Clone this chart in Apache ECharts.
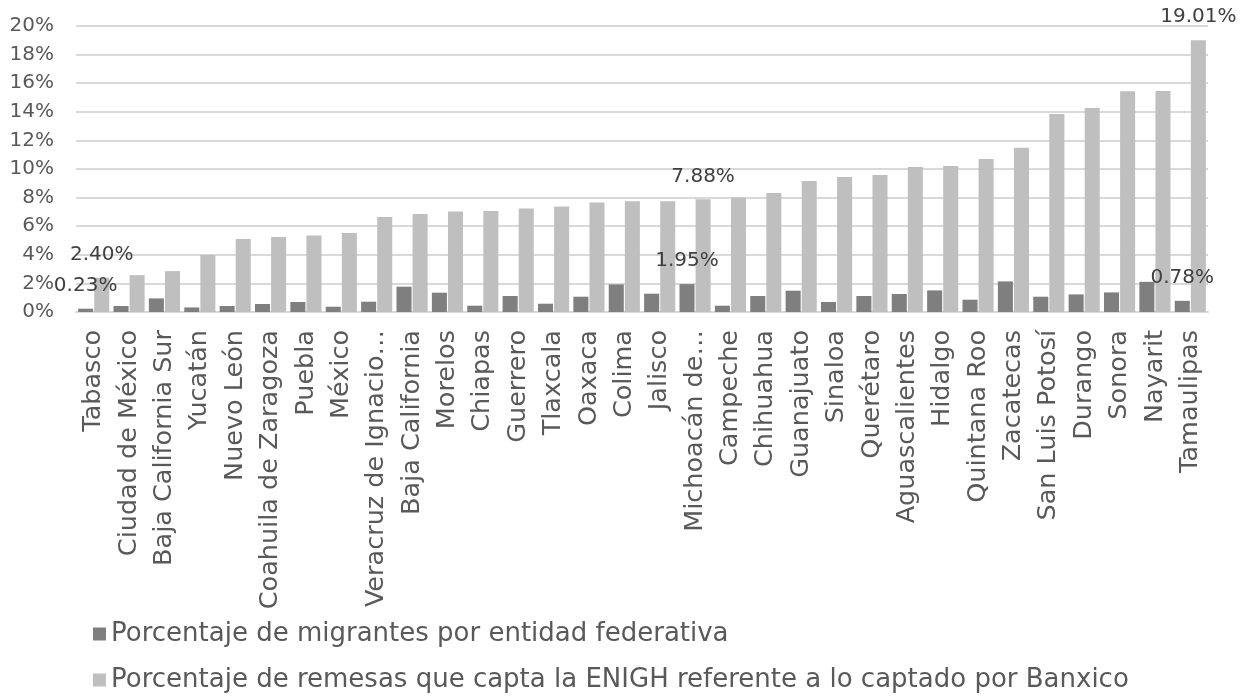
<!DOCTYPE html>
<html>
<head>
<meta charset="utf-8">
<script src="https://cdn.jsdelivr.net/npm/echarts@6/dist/echarts.min.js"></script>
<style>
  html, body { margin: 0; padding: 0; background: #ffffff; }
  #chart { width: 1244px; height: 696px; }
</style>
</head>
<body>
<div id="chart"></div>
<script>
// Entidades federativas, ordenadas por porcentaje de remesas captadas
const estados = [
  'Tabasco', 'Ciudad de México', 'Baja California Sur', 'Yucatán', 'Nuevo León',
  'Coahuila de Zaragoza', 'Puebla', 'México', 'Veracruz de Ignacio…', 'Baja California',
  'Morelos', 'Chiapas', 'Guerrero', 'Tlaxcala', 'Oaxaca', 'Colima', 'Jalisco',
  'Michoacán de…', 'Campeche', 'Chihuahua', 'Guanajuato', 'Sinaloa', 'Querétaro',
  'Aguascalientes', 'Hidalgo', 'Quintana Roo', 'Zacatecas', 'San Luis Potosí',
  'Durango', 'Sonora', 'Nayarit', 'Tamaulipas'
];

// Porcentaje de migrantes por entidad federativa
const migrantes = [
  0.23, 0.42, 0.95, 0.32, 0.42, 0.56, 0.70, 0.37, 0.72, 1.77,
  1.35, 0.44, 1.12, 0.58, 1.07, 1.93, 1.28, 1.95, 0.44, 1.12,
  1.49, 0.70, 1.12, 1.26, 1.51, 0.86, 2.14, 1.07, 1.23, 1.37,
  2.11, 0.78
];

// Porcentaje de remesas que capta la ENIGH respecto a Banxico
const remesas = [
  2.40, 2.58, 2.86, 4.00, 5.11, 5.25, 5.35, 5.53, 6.65, 6.86,
  7.02, 7.07, 7.23, 7.37, 7.65, 7.74, 7.74, 7.88, 8.00, 8.33,
  9.16, 9.44, 9.58, 10.14, 10.21, 10.70, 11.49, 13.84, 14.26, 15.44,
  15.46, 19.01
];

// Marcas de eje Y
const ticksY = [0, 2, 4, 6, 8, 10, 12, 14, 16, 18, 20];

// Etiquetas de dato visibles sólo en estas entidades
const conEtiqueta = ['Tabasco', 'Michoacán de…', 'Tamaulipas'];

const nombreMigrantes = 'Porcentaje de migrantes por entidad federativa';
const nombreRemesas = 'Porcentaje de remesas que capta la ENIGH referente a lo captado por Banxico';

const FONT = 'DejaVu Sans';
const TEXT = '#595959';

function conLabels(valores) {
  return valores.map((v, i) => ({
    value: v,
    label: { show: conEtiqueta.indexOf(estados[i]) !== -1 }
  }));
}

const etiquetaDato = {
  position: 'top',
  distance: 13,
  color: '#404040',
  fontFamily: FONT,
  fontSize: 20,
  formatter: p => p.value.toFixed(2) + '%'
};

const chart = echarts.init(document.getElementById('chart'), null, { renderer: 'canvas' });

chart.setOption({
  animation: false,
  backgroundColor: '#ffffff',
  textStyle: { fontFamily: FONT },
  grid: { left: 76, right: 36, top: 26, bottom: 384 },
  legend: {
    orient: 'vertical',
    left: 93,
    top: 621,
    height: 200,
    padding: 0,
    itemGap: 20,
    itemWidth: 13,
    itemHeight: 13,
    icon: 'rect',
    textStyle: { color: TEXT, fontFamily: FONT, fontSize: 26 },
    data: [nombreMigrantes, nombreRemesas]
  },
  xAxis: {
    type: 'category',
    data: estados,
    axisLine: { lineStyle: { color: '#d9d9d9', width: 2 } },
    axisTick: { show: false },
    axisLabel: {
      interval: 0,
      rotate: 90,
      margin: 18,
      color: TEXT,
      fontFamily: FONT,
      fontSize: 25.5
    }
  },
  yAxis: {
    type: 'value',
    min: ticksY[0],
    max: ticksY[ticksY.length - 1],
    interval: ticksY[1] - ticksY[0],
    axisLine: { show: false },
    axisTick: { show: false },
    splitLine: { lineStyle: { color: '#d9d9d9', width: 2 } },
    axisLabel: {
      margin: 22,
      color: TEXT,
      fontFamily: FONT,
      fontSize: 20,
      formatter: '{value}%'
    }
  },
  series: [
    {
      name: nombreMigrantes,
      type: 'bar',
      data: conLabels(migrantes),
      itemStyle: { color: '#7f7f7f' },
      barGap: '7%',
      barCategoryGap: '12%',
      label: etiquetaDato
    },
    {
      name: nombreRemesas,
      type: 'bar',
      data: conLabels(remesas),
      itemStyle: { color: '#bfbfbf' },
      barGap: '7%',
      barCategoryGap: '12%',
      label: etiquetaDato
    }
  ]
});
</script>
</body>
</html>
